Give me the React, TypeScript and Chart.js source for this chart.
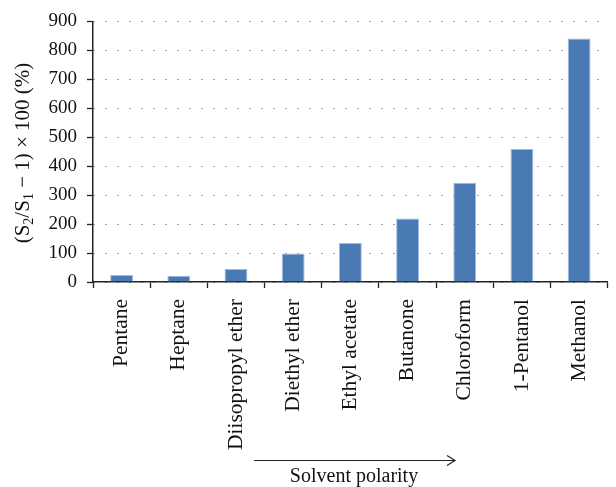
import { useEffect, useRef } from 'react';
import { Chart, registerables } from 'chart.js';

Chart.register(...registerables);

const categories = [
  'Pentane',
  'Heptane',
  'Diisopropyl ether',
  'Diethyl ether',
  'Ethyl acetate',
  'Butanone',
  'Chloroform',
  '1-Pentanol',
  'Methanol',
];
const values = [24, 22, 45, 98, 135, 219, 343, 459, 841];
const yMin = 0;
const yMax = 900;
const yStep = 100;
const xAxisTitle = 'Solvent polarity';

const FONT = '"Liberation Serif", "DejaVu Serif", serif';

const overlayPlugin = {
  id: 'overlay',
  afterDraw(chart: any) {
    const ctx = chart.ctx as CanvasRenderingContext2D;
    const area = chart.chartArea;
    // Y axis title with subscripts
    ctx.save();
    const cx = 22;
    const cy = 153;
    ctx.translate(cx, cy);
    ctx.rotate(-Math.PI / 2);
    const big = `21px ${FONT}`;
    const small = `14px ${FONT}`;
    const parts: [string, string, number][] = [
      ['(S', big, 0],
      ['2', small, 4],
      ['/S', big, 0],
      ['1', small, 4],
      [' \u2212 1) \u00d7 100 (%)', big, 0],
    ];
    let total = 0;
    for (const [t, f] of parts) {
      ctx.font = f;
      total += ctx.measureText(t).width;
    }
    let x = -total / 2;
    ctx.fillStyle = '#111';
    ctx.textBaseline = 'alphabetic';
    ctx.textAlign = 'left';
    for (const [t, f, dy] of parts) {
      ctx.font = f;
      ctx.fillText(t, x, 7 + dy);
      x += ctx.measureText(t).width;
    }
    ctx.restore();

    // Arrow and x title
    ctx.save();
    const ay = 460.5;
    const ax1 = 254;
    const ax2 = 455;
    ctx.strokeStyle = '#222';
    ctx.lineWidth = 1.2;
    ctx.beginPath();
    ctx.moveTo(ax1, ay);
    ctx.lineTo(ax2, ay);
    ctx.moveTo(ax2 - 8, ay - 5);
    ctx.lineTo(ax2, ay);
    ctx.lineTo(ax2 - 8, ay + 5);
    ctx.stroke();
    ctx.font = `20px ${FONT}`;
    ctx.fillStyle = '#111';
    ctx.textAlign = 'center';
    ctx.textBaseline = 'alphabetic';
    ctx.fillText(xAxisTitle, 354, 482);
    ctx.restore();
    void area;
  },
};

export default function App() {
  const ref = useRef<HTMLCanvasElement | null>(null);
  useEffect(() => {
    if (!ref.current) return;
    const chart = new Chart(ref.current, {
      type: 'bar',
      data: {
        labels: categories,
        datasets: [
          {
            data: values,
            backgroundColor: '#4a7ab4',
            borderColor: '#9fbbe0',
            borderWidth: 1,
            barPercentage: 0.4,
            categoryPercentage: 1,
          },
        ],
      },
      options: {
        responsive: false,
        animation: false,
        layout: { padding: { left: 0, right: 1, top: 19, bottom: 0 } },
        plugins: {
          legend: { display: false },
          tooltip: { enabled: false },
        },
        scales: {
          x: {
            offset: true,
            grid: {
              offset: true,
              drawOnChartArea: false,
              drawTicks: true,
              tickLength: 6,
              tickColor: '#222',
              tickWidth: 1.3,
            },
            border: { display: true, color: '#222', width: 1.5 },
            ticks: {
              autoSkip: false,
              minRotation: 90,
              maxRotation: 90,
              padding: 11,
              color: '#111',
              font: { family: FONT, size: 21.5 },
            },
            afterFit(scale: any) {
              scale.height = 487 - 282;
            },
          },
          y: {
            min: yMin,
            max: yMax,
            ticks: {
              stepSize: yStep,
              padding: 10,
              color: '#111',
              font: { family: FONT, size: 19 },
            },
            grid: {
              color: '#444',
              lineWidth: 1,
              drawTicks: true,
              tickLength: 6,
              tickColor: '#222',
              tickWidth: 1.3,
              tickBorderDash: [],
            },
            border: { display: true, color: '#222', width: 1.5, dash: [1, 11] },
            afterFit(scale: any) {
              scale.width = 93;
            },
          },
        },
      },
      plugins: [overlayPlugin],
    });
    return () => chart.destroy();
  }, []);
  return (
    <div style={{ position: 'absolute', left: 0, top: 0, width: 616, height: 487 }}>
      <canvas ref={ref} width={616} height={487} />
    </div>
  );
}
